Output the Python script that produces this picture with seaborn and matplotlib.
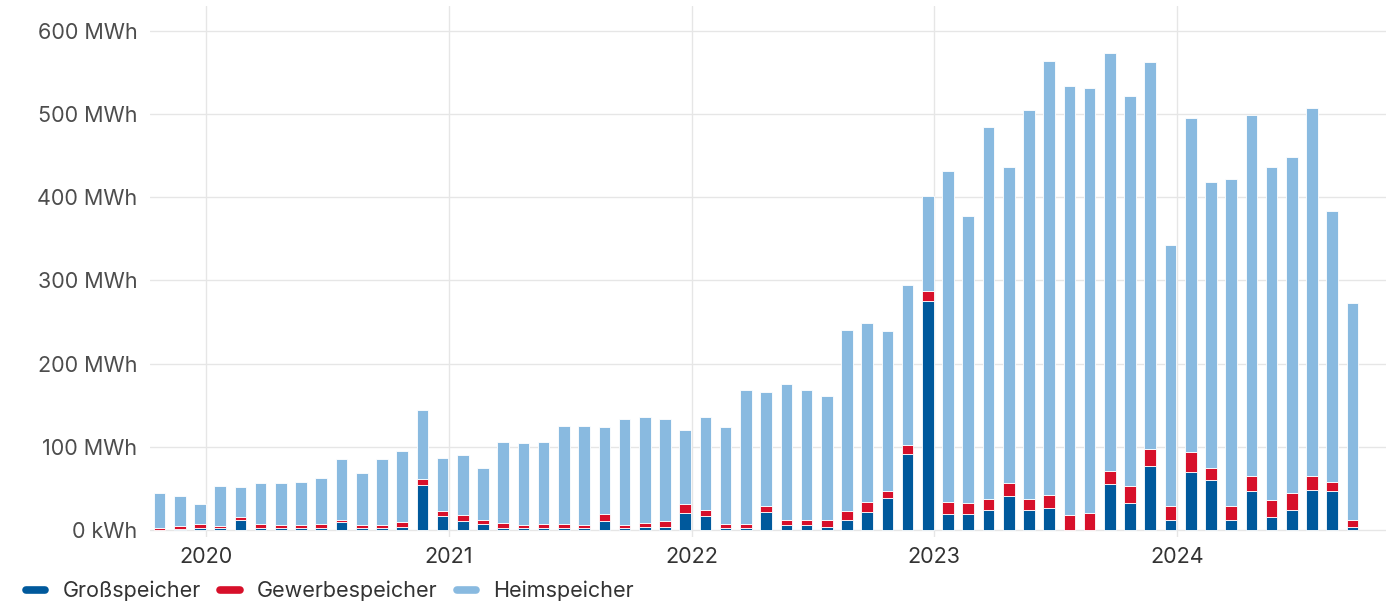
import numpy as np
import pandas as pd
import matplotlib
matplotlib.use('Agg')
import matplotlib.pyplot as plt
import seaborn as sns
from matplotlib.lines import Line2D
from matplotlib.ticker import FuncFormatter

# monthly values in MWh, Oct 2019 - Sep 2024
months = pd.date_range('2019-10-01', periods=60, freq='MS')

gross = [0.5, 1, 2,
         2, 12, 2, 2, 2, 2, 9.5, 2, 2, 4, 54.5, 17,
         11, 7, 3, 2, 3, 3, 2, 10.5, 2, 4, 4, 21,
         17, 2, 2, 22, 5.5, 5.5, 4, 12.5, 22, 38, 91.5, 275,
         19, 19, 24, 41, 24, 26, 0.5, 0.5, 55, 33, 77, 12.5,
         70, 60, 12.5, 46.5, 16, 24.5, 48, 46.5, 4]

gewerbe = [2, 3.5, 5,
           3, 4, 5, 3.5, 3.5, 5, 3, 3.5, 3.5, 5.5, 7, 5.5,
           6.5, 5, 6, 3.5, 4.5, 4.5, 3.5, 8.5, 3.5, 5, 6.5, 10,
           7, 5, 5, 7, 7, 7, 8.5, 10, 12, 8.5, 10.5, 12,
           15, 13.5, 13.5, 15.5, 13.5, 15.5, 18, 20, 16.5, 20, 20, 16.5,
           23.5, 14, 16.5, 18.5, 20, 20, 16.5, 11.5, 8]

heim = [42, 36.5, 24,
        48, 35.5, 49.5, 51, 52.5, 56, 73, 62.5, 80, 85.5, 82.5, 64.5,
        72.5, 63, 96.5, 98.5, 98, 118, 120, 105, 128.5, 127, 123.5, 89.5,
        112, 117, 161, 137, 162.5, 155.5, 148.5, 218.5, 215, 193, 193, 115,
        398, 345.5, 447.5, 379.5, 467.5, 522.5, 515.5, 511.5, 501.5, 469, 466, 313.5,
        401.5, 345, 393, 434, 400, 403.5, 442.5, 325, 261.5]

years = [2020, 2021, 2022, 2023, 2024]
series = ['Großspeicher', 'Gewerbespeicher', 'Heimspeicher']
colors = {'Großspeicher': '#00599c', 'Gewerbespeicher': '#d7102a', 'Heimspeicher': '#89bae0'}

df = pd.DataFrame({'monat': months, 'Großspeicher': gross,
                   'Gewerbespeicher': gewerbe, 'Heimspeicher': heim})
df['idx'] = np.arange(len(df))
long = df.melt(id_vars=['monat', 'idx'], value_vars=series, var_name='typ', value_name='mwh')

sns.set_style('white')
plt.rcParams['font.family'] = ['Inter', 'DejaVu Sans']

fig = plt.figure(figsize=(13.98, 6.02), dpi=100)
ax = fig.add_axes([0.1073, 0.108, 0.884, 0.882])

# last hue level ends up at the bottom of the stack
sns.histplot(data=long, x='idx', weights='mwh', hue='typ',
             hue_order=series[::-1], multiple='stack', discrete=True,
             shrink=0.575, palette=colors, alpha=1, edgecolor='white',
             linewidth=0.6, legend=False, ax=ax)

ax.set_xlim(-0.47, 60.65)
ax.set_ylim(-8.4, 630)
ax.set_yticks(range(0, 601, 100))
ax.yaxis.set_major_formatter(FuncFormatter(lambda v, p: '0 kWh' if v == 0 else f'{int(v)} MWh'))

jan_pos = [list(months).index(pd.Timestamp(f'{y}-01-01')) - 0.68 for y in years]
ax.set_xticks(jan_pos)
ax.set_xticklabels([str(y) for y in years])

ax.grid(True, color='#e6e6e6', linewidth=1)
ax.set_axisbelow(True)
for s in ax.spines.values():
    s.set_visible(False)
ax.set_xlabel('')
ax.set_ylabel('')
ax.tick_params(axis='y', length=0, pad=9, labelsize=15.5, labelcolor='#4d4d4d')
ax.tick_params(axis='x', length=0, pad=7, labelsize=15.5, labelcolor='#333333')

handles = [Line2D([0], [0], color=colors[s], lw=5.5, solid_capstyle='round') for s in series]
fig.legend(handles, series, loc='center left', bbox_to_anchor=(26 / 1398, 11 / 602),
           ncol=3, frameon=False, fontsize=15.5, handlelength=0.9, handletextpad=0.8,
           columnspacing=0.9, borderpad=0, borderaxespad=0, labelcolor='#333333')

fig.savefig('out.png', dpi=100)
